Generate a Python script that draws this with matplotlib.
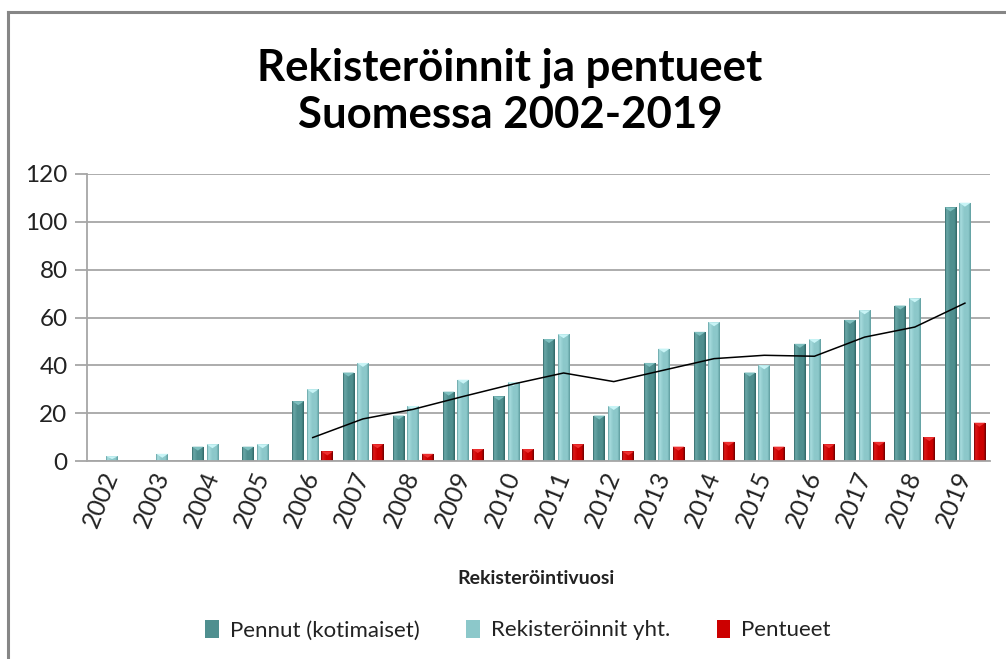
import numpy as np
import pandas as pd
import matplotlib
matplotlib.use("Agg")
import matplotlib.pyplot as plt
from matplotlib.colors import LinearSegmentedColormap
from matplotlib.patches import Patch, Polygon
from matplotlib.lines import Line2D

plt.rcParams['font.family'] = ['Lato', 'DejaVu Sans']

years = ['2002', '2003', '2004', '2005', '2006', '2007', '2008', '2009', '2010',
         '2011', '2012', '2013', '2014', '2015', '2016', '2017', '2018', '2019']
pennut = [0, 0, 6, 6, 25, 37, 19, 29, 27, 51, 19, 41, 54, 37, 49, 59, 65, 106]
rekisteroinnit = [2, 3, 7, 7, 30, 41, 23, 34, 33, 53, 23, 47, 58, 40, 51, 63, 68, 108]
pentueet = [0, 0, 0, 0, 4, 7, 3, 5, 5, 7, 4, 6, 8, 6, 7, 8, 10, 16]
series_names = ['Pennut (kotimaiset)', 'Rekisteröinnit yht.', 'Pentueet']
yticks = [0, 20, 40, 60, 80, 100, 120]

# 5-period moving average trendline of "Rekisteröinnit yht." (as in Excel)
trend = pd.Series(rekisteroinnit, dtype=float).rolling(5).mean()

W, H = 1006, 659
fig = plt.figure(figsize=(W / 100, H / 100), dpi=100)
ax = fig.add_axes([87 / W, 1 - 461 / H, (990 - 87) / W, (461 - 174) / H])

x = np.arange(len(years))
bw = 0.233
offs = [-0.29, 0.0, 0.29]
styles = [
    dict(base='#4f8f8f', light='#6aa8a8', dark='#2f6464', top='#7fc0c0'),
    dict(base='#8cc8ca', light='#a8dcde', dark='#5e9c9e', top='#c8f4f6'),
    dict(base='#cc0000', light='#dd1a1a', dark='#6a0000', top='#ee3030'),
]
px_per_unit = (461 - 174) / 120.0

for vals, off, st in zip([pennut, rekisteroinnit, pentueet], offs, styles):
    cmap = LinearSegmentedColormap.from_list(
        'g', [(0.0, st['dark']), (0.12, st['light']), (0.45, st['base']),
              (0.8, st['base']), (1.0, st['dark'])])
    grad = np.linspace(0, 1, 64).reshape(1, -1)
    for xi, v in zip(x, vals):
        if v <= 0:
            continue
        x0 = xi + off - bw / 2
        x1 = xi + off + bw / 2
        rect = ax.bar(xi + off, v, bw, color=st['base'], edgecolor='none',
                      zorder=2)[0]
        im = ax.imshow(grad, extent=(x0, x1, 0, v), aspect='auto', cmap=cmap,
                       zorder=2.1, interpolation='bilinear')
        im.set_clip_path(rect)
        d = min(4.0 / px_per_unit, v * 0.6)
        tri = Polygon([(x0, v), (x1, v), (xi + off, v - d)], closed=True,
                      facecolor=st['top'], edgecolor='none', zorder=2.2)
        ax.add_patch(tri)

ax.plot(x, trend, color='black', lw=1.1, zorder=3)

ax.set_xlim(-0.5, len(years) - 0.5)
ax.set_ylim(0, 120)
ax.set_yticks(yticks)
ax.set_yticklabels([str(t) for t in yticks], fontsize=17.5, color='#222222')
ax.grid(axis='y', color='#a6a6a6', lw=1.3, zorder=0)
ax.set_axisbelow(True)
for s in ['top', 'right']:
    ax.spines[s].set_visible(False)
ax.spines['left'].set_color('#a6a6a6')
ax.spines['left'].set_linewidth(1.3)
ax.spines['bottom'].set_color('#a6a6a6')
ax.spines['bottom'].set_linewidth(1.3)
ax.tick_params(axis='y', length=9, width=1.3, color='#a6a6a6', pad=5)
ax.tick_params(axis='x', length=0, pad=8)

ax.set_xticks(x)
ax.set_xticklabels(years, rotation=68, ha='right', va='center',
                   rotation_mode='anchor', fontsize=18, color='#222222')

fig.text(536 / W, 1 - 578 / H, 'Rekisteröintivuosi', ha='center', va='center',
         fontsize=14, fontweight='bold', color='#222222')

fig.text(510 / W, 1 - 91 / H, 'Rekisteröinnit ja pentueet\nSuomessa 2002-2019',
         ha='center', va='center', fontsize=31.5, fontweight='bold',
         linespacing=1.2, color='black')

handles = [Patch(facecolor=st['base'], edgecolor='none') for st in styles]
fig.legend(handles, series_names, loc='center', bbox_to_anchor=(518 / W, 1 - 630 / H),
           ncol=3, frameon=False, fontsize=16, handlelength=0.6, handleheight=0.9,
           handletextpad=0.5, columnspacing=2.1, labelcolor='#222222')

# chart area border (left and top visible)
fig.add_artist(Line2D([8 / W, 8 / W], [0, 1 - 12 / H], transform=fig.transFigure,
                      color='#868686', lw=2.2))
fig.add_artist(Line2D([8 / W, 1], [1 - 12 / H, 1 - 12 / H], transform=fig.transFigure,
                      color='#868686', lw=2.2))

fig.savefig('out.png', dpi=100)
